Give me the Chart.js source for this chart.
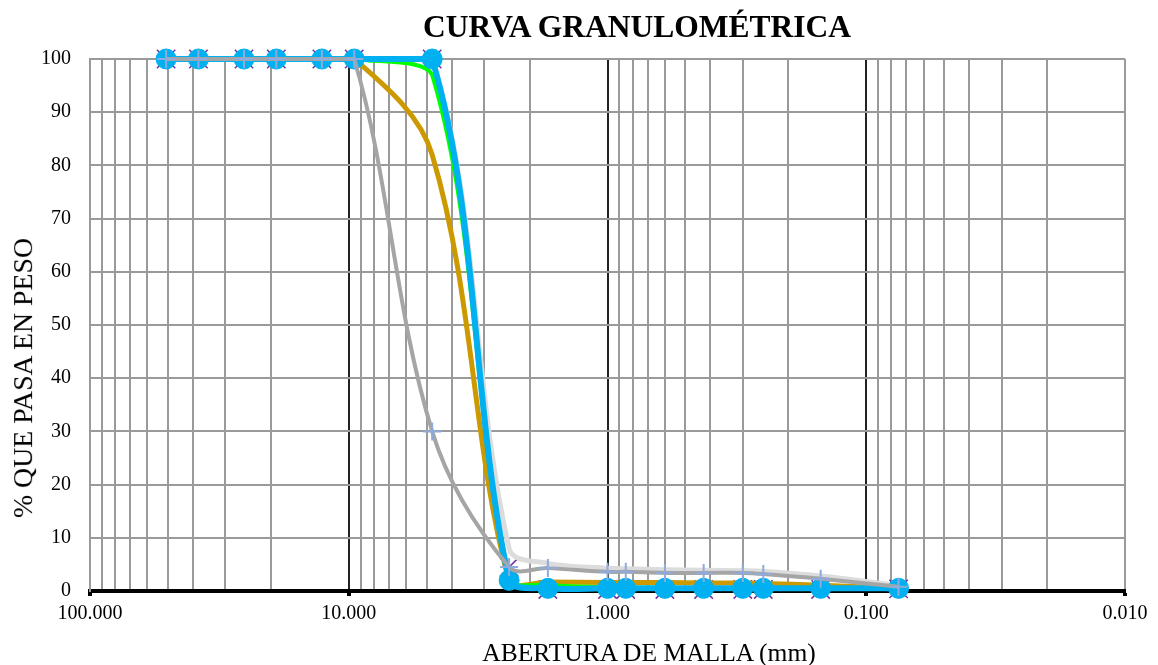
<!DOCTYPE html>
<html>
<head>
<meta charset="utf-8">
<script src="https://cdn.jsdelivr.net/npm/chart.js@4.4.1/dist/chart.umd.min.js"></script>
<style>
  html, body { margin: 0; padding: 0; background: #fff; }
  #wrap { position: relative; width: 1158px; height: 665px; font-family: 'Liberation Serif', 'Times New Roman', serif; color: #000; }
  #chart { position: absolute; left: 0; top: 0; }
  .lbl { position: absolute; white-space: nowrap; line-height: 1; transform: translate(-50%, -50%); }
  #title { left: 637px; top: 27px; font-size: 31.5px; font-weight: bold; }
  #xtitle { left: 649px; top: 653px; font-size: 25.5px; }
  #ytitle { left: 23px; top: 378px; font-size: 27.8px; transform: translate(-50%, -50%) rotate(-90deg); }
</style>
</head>
<body>
<div id="wrap">
  <canvas id="chart" width="1158" height="665"></canvas>
  <div class="lbl" id="title">CURVA GRANULOMÉTRICA</div>
  <div class="lbl" id="xtitle">ABERTURA DE MALLA (mm)</div>
  <div class="lbl" id="ytitle">% QUE PASA EN PESO</div>
</div>
<script>
// sieve openings (mm) and % passing per curve
const SIEVE_MM = [50.8, 38.1, 25.4, 19.05, 12.7, 9.525, 4.76, 2.40, 1.70, 1.00, 0.85, 0.60, 0.425, 0.30, 0.25, 0.15, 0.075];

const PASA_AZUL  = [100, 100, 100, 100, 100, 100, 100, 2.0, 0.5, 0.5, 0.5, 0.5, 0.5, 0.5, 0.5, 0.5, 0.5];
const PASA_VERDE = [100, 100, 100, 100, 100, 100, 97, 2.5, 1.2, 0.7, 0.6, 0.6, 0.5, 0.5, 0.5, 0.5, 0.5];
const PASA_OCRE  = [100, 100, 100, 100, 100, 100, 82, 1.8, 1.7, 1.6, 1.6, 1.6, 1.5, 1.5, 1.4, 1.1, 0.5];
const PASA_GRIS  = [100, 100, 100, 100, 100, 100, 30, 4.5, 4.3, 3.6, 3.6, 3.4, 3.4, 3.4, 3.2, 2.3, 0.8];
const PASA_CLARO = [100, 100, 100, 100, 100, 100, 100, 8.0, 5.2, 4.3, 4.2, 4.0, 3.9, 3.8, 3.7, 2.8, 1.0];
const PASA_MARCA = [100, 100, 100, 100, 100, 100, 100, 4.5, 0.3, 0.3, 0.3, 0.3, 0.3, 0.3, 0.3, 0.3, 0.4];

const X_DECADES = [100, 10, 1, 0.1, 0.01];
const X_TICK_LABELS = ['100.000', '10.000', '1.000', '0.100', '0.010'];
const Y_TICKS = [0, 10, 20, 30, 40, 50, 60, 70, 80, 90, 100];

const FONT = "'Liberation Serif', 'Times New Roman', serif";
const GRID_GRAY = '#9a9a9a';

// 1..9 x 10^n grid positions between 0.01 and 100
const X_GRID = [];
for (let e = -2; e <= 1; e++) {
    for (let m = 1; m <= 9; m++) X_GRID.push(Number((m * Math.pow(10, e)).toPrecision(3)));
}
X_GRID.push(100);

function decadeIndex(v) {
    return X_DECADES.findIndex(d => Math.abs(d - v) < d * 1e-6);
}
function innerDecade(v) {
    const i = decadeIndex(v);
    return i > 0 && i < X_DECADES.length - 1;
}

function pts(values) {
    return SIEVE_MM.map((x, i) => ({ x, y: values[i] }));
}

function curve(values, color, width, order, extra) {
    return Object.assign({
        data: pts(values),
        borderColor: color,
        backgroundColor: color,
        borderWidth: width,
        pointRadius: 0,
        tension: 0.35,
        fill: false,
        clip: false,
        order,
    }, extra || {});
}

const datasets = [
    curve(PASA_GRIS, '#a5a5a5', 4, 0, {
        pointStyle: 'cross', pointRadius: 9, pointBorderWidth: 2,
        pointBorderColor: '#8faadc', pointBackgroundColor: '#8faadc',
    }),
    curve(PASA_AZUL, '#00b0f0', 6, 1, {
        pointStyle: 'circle', pointRadius: 10, pointBorderWidth: 1,
        pointBorderColor: '#00b0f0', pointBackgroundColor: '#00b0f0',
    }),
    curve(PASA_VERDE, '#00ff00', 4, 2),
    curve(PASA_OCRE, '#cc9900', 5, 3),
    curve(PASA_CLARO, '#dcdcdc', 5, 4),
    curve(PASA_MARCA, '#7030a0', 0, 5, {
        showLine: false, pointStyle: 'crossRot', pointRadius: 13, pointBorderWidth: 1.5,
        pointBorderColor: '#7030a0', pointBackgroundColor: '#7030a0',
    }),
];

new Chart(document.getElementById('chart'), {
    type: 'line',
    data: { datasets },
    options: {
        responsive: false,
        animation: false,
        devicePixelRatio: 1,
        layout: { padding: { left: 0, top: 59, right: 33, bottom: 24 } },
        plugins: { legend: { display: false }, tooltip: { enabled: false }, title: { display: false } },
        scales: {
            x: {
                type: 'logarithmic',
                reverse: true,
                min: 0.01,
                max: 100,
                afterBuildTicks: s => { s.ticks = X_GRID.map(v => ({ value: v })); },
                afterFit: s => { s.height = 50; },
                ticks: {
                    autoSkip: false,
                    maxRotation: 0,
                    padding: 6,
                    color: '#000',
                    font: { family: FONT, size: 20 },
                    callback: v => {
                        const i = decadeIndex(v);
                        return i >= 0 ? X_TICK_LABELS[i] : '';
                    },
                },
                grid: {
                    color: c => innerDecade(c.tick.value) ? '#222' : GRID_GRAY,
                    lineWidth: 2,
                    tickLength: 5,
                    tickWidth: 4,
                    tickColor: c => decadeIndex(c.tick.value) >= 0 ? '#000' : 'rgba(0,0,0,0)',
                },
                border: { color: '#000', width: 4 },
            },
            y: {
                min: 0,
                max: 100,
                afterBuildTicks: s => { s.ticks = Y_TICKS.map(v => ({ value: v })); },
                afterFit: s => { s.width = 90; },
                ticks: { padding: 19, color: '#000', font: { family: FONT, size: 20 } },
                grid: { color: GRID_GRAY, lineWidth: 2, drawTicks: false },
                border: { color: GRID_GRAY, width: 2 },
            },
        },
    },
});
</script>
</body>
</html>
